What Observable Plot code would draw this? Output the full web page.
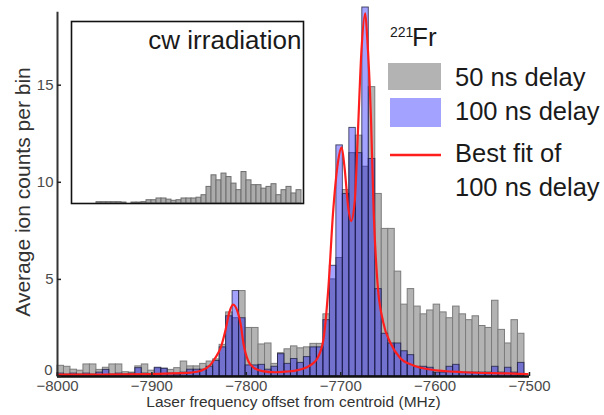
<!DOCTYPE html>
<html>
<head>
<meta charset="utf-8">
<script src="https://cdn.jsdelivr.net/npm/d3@7"></script>
<script src="https://cdn.jsdelivr.net/npm/@observablehq/plot@0.6"></script>
<style>
  html, body { margin: 0; padding: 0; background: #fff; }
  #wrap { position: relative; width: 604px; height: 415px; overflow: hidden;
          font-family: "Liberation Sans", Arial, Helvetica, sans-serif; }
  #wrap svg { display: block; }
  #main { position: absolute; left: 0; top: 0; }
  #inset { position: absolute; left: 70px; top: 20px; }
  #legend { position: absolute; left: 0; top: 0; pointer-events: none; }
</style>
</head>
<body>
<div id="wrap">
  <div id="main"></div>
  <div id="inset"></div>
  <div id="legend"></div>
</div>
<script>
// ---------------- data ----------------
const xRangeMHz = [-8000, -7500];
const binStartMHz = -8000;
const binWidthMHz = 6.87;                  // histogram bin width

// average ion counts per bin, 50 ns delay (grey)
const delay50 = [
  0.55, 0.50, 0.35, 0.30, 0.62, 0.62, 0.34, 0.45, 0.62, 0.62,
  0.22, 0.20, 0.52, 0.62, 0.30, 0.42, 0.40, 0.34, 0.43, 0.77,
  0.52, 0.52, 0.65, 0.77, 0.88, 1.63, 3.30, 3.00, 4.40, 2.50,
  2.50, 1.65, 1.70, 0.65, 1.20, 1.40, 1.55, 1.45, 1.50, 1.68,
  1.68, 3.20, 5.00, 6.10, 9.60, 11.5, 12.4, 10.8, 14.9, 9.40,
  7.60, 7.60, 5.40, 3.70, 4.50, 3.60, 3.20, 3.40, 3.70, 3.30,
  3.00, 3.60, 3.20, 2.90, 3.10, 2.60, 2.50, 3.90, 2.40, 1.70,
  2.90, 2.20
];
// average ion counts per bin, 100 ns delay (blue)
const delay100 = [
  0.15, 0.10, 0.15, 0.10, 0.15, 0.10, 0.20, 0.34, 0.10, 0.15,
  0.10, 0.15, 0.43, 0.15, 0.10, 0.45, 0.40, 0.15, 0.10, 0.20,
  0.35, 0.35, 0.35, 0.50, 0.80, 1.50, 3.10, 4.40, 3.00, 0.57,
  0.57, 0.60, 0.35, 0.50, 1.15, 0.65, 0.90, 0.70, 1.00, 1.50,
  1.50, 2.90, 5.70, 11.9, 9.40, 12.8, 11.5, 19.0, 11.2, 4.50,
  2.20, 1.70, 1.70, 1.30, 1.10, 0.50, 0.50, 0.45, 0.20, 0.20,
  0.50, 0.60, 0.20, 0.20, 0.20, 0.20, 0.20, 0.50, 0.20, 0.45,
  0.20, 0.70
];
// best fit of 100 ns delay
const fitMHz = [
  -8000, -7954, -7901, -7870, -7859, -7848, -7838, -7833, -7827, -7822,
  -7818, -7814, -7809, -7806, -7803, -7798, -7792, -7783, -7769, -7758,
  -7748, -7737, -7730, -7724, -7718, -7713, -7708, -7703, -7699, -7696,
  -7692, -7689, -7685, -7682, -7678, -7674, -7672, -7668, -7665, -7661,
  -7655, -7647, -7637, -7623, -7605, -7570, -7517, -7502
];
const fitCounts = [
  0.10, 0.10, 0.12, 0.17, 0.20, 0.30, 0.60, 0.95, 1.50, 2.40,
  3.30, 3.70, 3.30, 2.70, 1.70, 0.80, 0.45, 0.28, 0.22, 0.25,
  0.30, 0.45, 0.65, 1.00, 2.00, 4.60, 8.50, 11.0, 11.8, 10.8,
  8.70, 8.00, 9.10, 12.3, 16.8, 18.7, 17.5, 13.4, 8.40, 4.80,
  2.80, 1.70, 0.95, 0.57, 0.36, 0.22, 0.15, 0.12
];
// inset: cw irradiation histogram (same count units)
const cwCounts = [
  0, 0, 0, 0, 0, 0.07, 0.07, 0.07, 0.07, 0.07,
  0.05, 0, 0.05, 0.05, 0.07, 0.17, 0.17, 0.26, 0.26, 0.20,
  0.14, 0.17, 0.26, 0.26, 0.26, 0.30, 0.43, 0.86, 1.46, 1.20,
  1.55, 1.37, 1.03, 0.69, 1.63, 1.20, 0.95, 0.95, 0.77, 0.86,
  1.00, 0.43, 0.69, 0.86, 0.52, 0.69
];
const xTicks = [-8000, -7900, -7800, -7700, -7600, -7500];
const yTicks = [5, 10, 15];
const yZeroTick = [0];
const xTitle = "Laser frequency offset from centroid (MHz)";
const yTitle = "Average ion counts per bin";
const insetTitle = "cw irradiation";
const isotopeMass = "221";
const isotopeSymbol = "Fr";
const legendLabels = ["50 ns delay", "100 ns delay", "Best fit of", "100 ns delay"];

// ---------------- build tables ----------------
const bins = delay50.map((g, i) => ({
  x1: binStartMHz + i * binWidthMHz, x2: binStartMHz + (i + 1) * binWidthMHz, g, b: delay100[i]
}));
const fit = fitMHz.map((x, i) => ({x, y: fitCounts[i]}));
const cw = cwCounts.map((v, i) => ({i1: i, i2: i + 1, v}));

const FONT = "Liberation Sans, Arial, Helvetica, sans-serif";
const GREY = "#b3b3b3";
const BLUE = "#0000ff";
const BLUE_OP = 0.36;
const RED = "#ff1e1e";

// ---------------- main chart ----------------
const main = Plot.plot({
  width: 604, height: 415,
  marginLeft: 57, marginRight: 75, marginTop: 7, marginBottom: 39,
  style: {fontFamily: FONT, background: "transparent", color: "#333", overflow: "visible"},
  x: {domain: xRangeMHz},
  y: {domain: [0, 19]},
  marks: [
    Plot.rectY(bins, {x1: "x1", x2: "x2", y: "g", fill: GREY, stroke: "#7c7c7c", strokeWidth: 1}),
    Plot.rectY(bins, {x1: "x1", x2: "x2", y: "b", fill: BLUE, fillOpacity: BLUE_OP,
                      stroke: "#1c1c3c", strokeOpacity: 0.75, strokeWidth: 1}),
    Plot.line(fit, {x: "x", y: "y", stroke: RED, strokeWidth: 2.2, curve: "monotone-x"}),
    Plot.ruleY([0], {stroke: "#111", strokeWidth: 2.5}),
    Plot.ruleX([xRangeMHz[0]], {y1: 0, y2: 18.75, stroke: "#333", strokeWidth: 2}),
    Plot.axisX({ticks: xTicks, tickSize: -4, tickFormat: () => "", label: null, stroke: "#222", strokeWidth: 1.5}),
    Plot.axisX({ticks: xTicks, tickSize: 0, tickPadding: 4, tickFormat: "d", label: null, fontSize: 15, fill: "#4a4a4a"}),
    Plot.axisY({ticks: [...yZeroTick, ...yTicks], tickSize: -4, tickFormat: () => "", label: null, stroke: "#222", strokeWidth: 1.5}),
    Plot.axisY({ticks: yTicks, tickSize: 0, tickPadding: 4, label: null, fontSize: 15, fill: "#4a4a4a"}),
    Plot.axisY({ticks: yZeroTick, tickSize: 0, tickPadding: 5, dy: -6, label: null, fontSize: 15, fill: "#4a4a4a"}),
    Plot.text([xTitle], {frameAnchor: "bottom", dy: 30, fontSize: 15.5, fill: "#333"}),
    Plot.text([yTitle], {frameAnchor: "left", textAnchor: "middle", rotate: -90, dx: -34, fontSize: 21, fill: "#333"})
  ]
});
document.getElementById("main").appendChild(main);

// ---------------- inset ----------------
const inset = Plot.plot({
  width: 234, height: 184,
  marginLeft: 1, marginRight: 1, marginTop: 1, marginBottom: 1,
  style: {fontFamily: FONT, background: "#fff", overflow: "visible"},
  x: {domain: [0, 46.4], axis: null},
  y: {domain: [0, 9.43], axis: null},
  marks: [
    Plot.rectY(cw, {x1: "i1", x2: "i2", y: "v", fill: "#ababab", stroke: "#6e6e6e", strokeWidth: 1}),
    Plot.frame({stroke: "#111", strokeWidth: 1.6}),
    Plot.text([insetTitle], {frameAnchor: "top-right", textAnchor: "end", lineAnchor: "bottom",
                             dx: -2, dy: 27, fontSize: 26, fill: "#1a1a1a"})
  ]
});
document.getElementById("inset").appendChild(inset);

// ---------------- legend ----------------
const lg = d3.select("#legend").append("svg")
  .attr("width", 604).attr("height", 415)
  .style("font-family", FONT);
lg.append("text").attr("x", 390).attr("y", 37).attr("font-size", 14).attr("fill", "#1a1a1a").text(isotopeMass);
lg.append("text").attr("x", 412).attr("y", 46).attr("font-size", 26).attr("fill", "#1a1a1a").text(isotopeSymbol);
lg.append("rect").attr("x", 388).attr("y", 63).attr("width", 53).attr("height", 27).attr("fill", GREY);
lg.append("rect").attr("x", 390).attr("y", 98).attr("width", 51).attr("height", 29)
  .attr("fill", BLUE).attr("fill-opacity", BLUE_OP);
lg.append("line").attr("x1", 390).attr("x2", 441).attr("y1", 155).attr("y2", 155)
  .attr("stroke", RED).attr("stroke-width", 2.4);
const legendBaselines = [86, 120, 162, 196];
legendLabels.forEach((t, i) => {
  lg.append("text").attr("x", 455).attr("y", legendBaselines[i]).attr("font-size", 25.5)
    .attr("fill", "#1a1a1a").text(t);
});
</script>
</body>
</html>
